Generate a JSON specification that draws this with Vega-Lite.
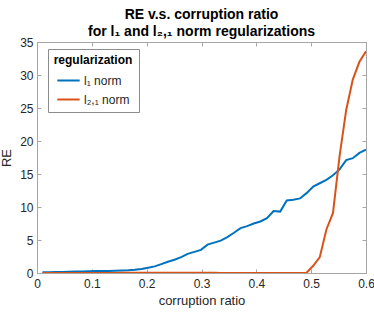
{
  "$schema": "https://vega.github.io/schema/vega-lite/v6.json",
  "autosize": {"type": "none"},
  "width": 329,
  "height": 231,
  "padding": {"left": 37, "top": 42, "right": 8, "bottom": 40},
  "background": "white",
  "config": {
    "font": "Liberation Sans",
    "view": {"stroke": "#a6a6a6", "strokeWidth": 1},
    "axis": {
      "domainColor": "#a6a6a6",
      "tickColor": "#a6a6a6",
      "labelColor": "#262626",
      "titleColor": "#262626",
      "labelFont": "Liberation Sans",
      "titleFont": "Liberation Sans",
      "labelFontSize": 12,
      "titleFontSize": 13,
      "titleFontWeight": "normal",
      "grid": false,
      "tickSize": -4
    }
  },
  "title": {
    "text": ["RE v.s. corruption ratio", "for l₁ and l₂,₁ norm regularizations"],
    "font": "Liberation Sans",
    "fontSize": 14,
    "fontWeight": "bold",
    "color": "#000000",
    "anchor": "middle",
    "lineHeight": 17,
    "offset": -3
  },
  "data": {
    "values": [
      {"x": 0.0100, "RE": 0.1, "reg": "l₁ norm"},
      {"x": 0.0220, "RE": 0.12, "reg": "l₁ norm"},
      {"x": 0.0341, "RE": 0.15, "reg": "l₁ norm"},
      {"x": 0.0461, "RE": 0.17, "reg": "l₁ norm"},
      {"x": 0.0582, "RE": 0.19, "reg": "l₁ norm"},
      {"x": 0.0702, "RE": 0.21, "reg": "l₁ norm"},
      {"x": 0.0822, "RE": 0.24, "reg": "l₁ norm"},
      {"x": 0.0943, "RE": 0.27, "reg": "l₁ norm"},
      {"x": 0.1063, "RE": 0.3, "reg": "l₁ norm"},
      {"x": 0.1184, "RE": 0.31, "reg": "l₁ norm"},
      {"x": 0.1304, "RE": 0.32, "reg": "l₁ norm"},
      {"x": 0.1424, "RE": 0.34, "reg": "l₁ norm"},
      {"x": 0.1545, "RE": 0.36, "reg": "l₁ norm"},
      {"x": 0.1665, "RE": 0.4, "reg": "l₁ norm"},
      {"x": 0.1786, "RE": 0.48, "reg": "l₁ norm"},
      {"x": 0.1906, "RE": 0.62, "reg": "l₁ norm"},
      {"x": 0.2027, "RE": 0.8, "reg": "l₁ norm"},
      {"x": 0.2147, "RE": 1.0, "reg": "l₁ norm"},
      {"x": 0.2267, "RE": 1.35, "reg": "l₁ norm"},
      {"x": 0.2388, "RE": 1.7, "reg": "l₁ norm"},
      {"x": 0.2508, "RE": 2.0, "reg": "l₁ norm"},
      {"x": 0.2629, "RE": 2.4, "reg": "l₁ norm"},
      {"x": 0.2749, "RE": 2.9, "reg": "l₁ norm"},
      {"x": 0.2869, "RE": 3.2, "reg": "l₁ norm"},
      {"x": 0.2990, "RE": 3.5, "reg": "l₁ norm"},
      {"x": 0.3110, "RE": 4.3, "reg": "l₁ norm"},
      {"x": 0.3231, "RE": 4.6, "reg": "l₁ norm"},
      {"x": 0.3351, "RE": 4.9, "reg": "l₁ norm"},
      {"x": 0.3471, "RE": 5.45, "reg": "l₁ norm"},
      {"x": 0.3592, "RE": 6.1, "reg": "l₁ norm"},
      {"x": 0.3712, "RE": 6.8, "reg": "l₁ norm"},
      {"x": 0.3833, "RE": 7.1, "reg": "l₁ norm"},
      {"x": 0.3953, "RE": 7.5, "reg": "l₁ norm"},
      {"x": 0.4073, "RE": 7.8, "reg": "l₁ norm"},
      {"x": 0.4194, "RE": 8.3, "reg": "l₁ norm"},
      {"x": 0.4314, "RE": 9.4, "reg": "l₁ norm"},
      {"x": 0.4435, "RE": 9.3, "reg": "l₁ norm"},
      {"x": 0.4555, "RE": 11.0, "reg": "l₁ norm"},
      {"x": 0.4676, "RE": 11.1, "reg": "l₁ norm"},
      {"x": 0.4796, "RE": 11.3, "reg": "l₁ norm"},
      {"x": 0.4916, "RE": 12.1, "reg": "l₁ norm"},
      {"x": 0.5037, "RE": 13.1, "reg": "l₁ norm"},
      {"x": 0.5157, "RE": 13.6, "reg": "l₁ norm"},
      {"x": 0.5278, "RE": 14.1, "reg": "l₁ norm"},
      {"x": 0.5398, "RE": 14.8, "reg": "l₁ norm"},
      {"x": 0.5518, "RE": 15.7, "reg": "l₁ norm"},
      {"x": 0.5639, "RE": 17.1, "reg": "l₁ norm"},
      {"x": 0.5759, "RE": 17.4, "reg": "l₁ norm"},
      {"x": 0.5880, "RE": 18.2, "reg": "l₁ norm"},
      {"x": 0.6000, "RE": 18.7, "reg": "l₁ norm"},
      {"x": 0.0100, "RE": 0, "reg": "l₂,₁ norm"},
      {"x": 0.0220, "RE": 0, "reg": "l₂,₁ norm"},
      {"x": 0.0341, "RE": 0, "reg": "l₂,₁ norm"},
      {"x": 0.0461, "RE": 0, "reg": "l₂,₁ norm"},
      {"x": 0.0582, "RE": 0, "reg": "l₂,₁ norm"},
      {"x": 0.0702, "RE": 0, "reg": "l₂,₁ norm"},
      {"x": 0.0822, "RE": 0, "reg": "l₂,₁ norm"},
      {"x": 0.0943, "RE": 0, "reg": "l₂,₁ norm"},
      {"x": 0.1063, "RE": 0, "reg": "l₂,₁ norm"},
      {"x": 0.1184, "RE": 0, "reg": "l₂,₁ norm"},
      {"x": 0.1304, "RE": 0, "reg": "l₂,₁ norm"},
      {"x": 0.1424, "RE": 0.01, "reg": "l₂,₁ norm"},
      {"x": 0.1545, "RE": 0.02, "reg": "l₂,₁ norm"},
      {"x": 0.1665, "RE": 0.03, "reg": "l₂,₁ norm"},
      {"x": 0.1786, "RE": 0.03, "reg": "l₂,₁ norm"},
      {"x": 0.1906, "RE": 0.03, "reg": "l₂,₁ norm"},
      {"x": 0.2027, "RE": 0.02, "reg": "l₂,₁ norm"},
      {"x": 0.2147, "RE": 0.02, "reg": "l₂,₁ norm"},
      {"x": 0.2267, "RE": 0.02, "reg": "l₂,₁ norm"},
      {"x": 0.2388, "RE": 0.02, "reg": "l₂,₁ norm"},
      {"x": 0.2508, "RE": 0.02, "reg": "l₂,₁ norm"},
      {"x": 0.2629, "RE": 0.02, "reg": "l₂,₁ norm"},
      {"x": 0.2749, "RE": 0.02, "reg": "l₂,₁ norm"},
      {"x": 0.2869, "RE": 0.02, "reg": "l₂,₁ norm"},
      {"x": 0.2990, "RE": 0.02, "reg": "l₂,₁ norm"},
      {"x": 0.3110, "RE": 0.02, "reg": "l₂,₁ norm"},
      {"x": 0.3231, "RE": 0.02, "reg": "l₂,₁ norm"},
      {"x": 0.3351, "RE": 0.01, "reg": "l₂,₁ norm"},
      {"x": 0.3471, "RE": 0.01, "reg": "l₂,₁ norm"},
      {"x": 0.3592, "RE": 0.01, "reg": "l₂,₁ norm"},
      {"x": 0.3712, "RE": 0.01, "reg": "l₂,₁ norm"},
      {"x": 0.3833, "RE": 0.01, "reg": "l₂,₁ norm"},
      {"x": 0.3953, "RE": 0.01, "reg": "l₂,₁ norm"},
      {"x": 0.4073, "RE": 0.01, "reg": "l₂,₁ norm"},
      {"x": 0.4194, "RE": 0.01, "reg": "l₂,₁ norm"},
      {"x": 0.4314, "RE": 0.01, "reg": "l₂,₁ norm"},
      {"x": 0.4435, "RE": 0.01, "reg": "l₂,₁ norm"},
      {"x": 0.4555, "RE": 0.01, "reg": "l₂,₁ norm"},
      {"x": 0.4676, "RE": 0.01, "reg": "l₂,₁ norm"},
      {"x": 0.4796, "RE": 0.01, "reg": "l₂,₁ norm"},
      {"x": 0.4916, "RE": 0.05, "reg": "l₂,₁ norm"},
      {"x": 0.5037, "RE": 1.1, "reg": "l₂,₁ norm"},
      {"x": 0.5157, "RE": 2.4, "reg": "l₂,₁ norm"},
      {"x": 0.5278, "RE": 6.6, "reg": "l₂,₁ norm"},
      {"x": 0.5398, "RE": 9.1, "reg": "l₂,₁ norm"},
      {"x": 0.5518, "RE": 17.7, "reg": "l₂,₁ norm"},
      {"x": 0.5639, "RE": 24.7, "reg": "l₂,₁ norm"},
      {"x": 0.5759, "RE": 29.3, "reg": "l₂,₁ norm"},
      {"x": 0.5880, "RE": 32.0, "reg": "l₂,₁ norm"},
      {"x": 0.6000, "RE": 33.6, "reg": "l₂,₁ norm"}
    ]
  },
  "layer": [
    {
      "mark": {"type": "line", "strokeWidth": 2, "clip": true},
      "encoding": {
        "x": {
          "field": "x", "type": "quantitative",
          "scale": {"domain": [0, 0.6], "nice": false, "zero": false},
          "axis": {"orient": "bottom", "values": [0, 0.1, 0.2, 0.3, 0.4, 0.5, 0.6], "format": "~g", "labelPadding": 9, "title": "corruption ratio", "titlePadding": 5, "labelFlush": false}
        },
        "y": {
          "field": "RE", "type": "quantitative",
          "scale": {"domain": [0, 35], "nice": false},
          "axis": {"orient": "left", "values": [0, 5, 10, 15, 20, 25, 30, 35], "labelPadding": 8, "title": "RE", "titlePadding": 6}
        },
        "color": {
          "field": "reg", "type": "nominal",
          "scale": {"domain": ["l₁ norm", "l₂,₁ norm"], "range": ["#0072BD", "#D95319"]},
          "legend": {
            "orient": "none", "legendX": 11, "legendY": 7,
            "title": "regularization",
            "titleFont": "Liberation Sans", "titleFontSize": 12, "titleFontWeight": "bold", "titleColor": "#000000",
            "titleAnchor": "middle", "titlePadding": 1,
            "labelFont": "Liberation Sans", "labelFontSize": 12, "labelColor": "#262626",
            "symbolType": "stroke", "symbolStrokeWidth": 2, "symbolSize": 500,
            "rowPadding": -3, "labelOffset": 3,
            "strokeColor": "#8c8c8c", "fillColor": "white", "padding": 6
          }
        }
      }
    },
    {
      "mark": {"type": "line", "opacity": 0},
      "encoding": {
        "x": {
          "field": "x", "type": "quantitative",
          "axis": {"orient": "top", "values": [0, 0.1, 0.2, 0.3, 0.4, 0.5, 0.6], "labels": false, "title": null}
        },
        "y": {
          "field": "RE", "type": "quantitative",
          "axis": {"orient": "right", "values": [0, 5, 10, 15, 20, 25, 30, 35], "labels": false, "title": null}
        },
        "detail": {"field": "reg"}
      }
    }
  ],
  "resolve": {"axis": {"x": "independent", "y": "independent"}}
}
